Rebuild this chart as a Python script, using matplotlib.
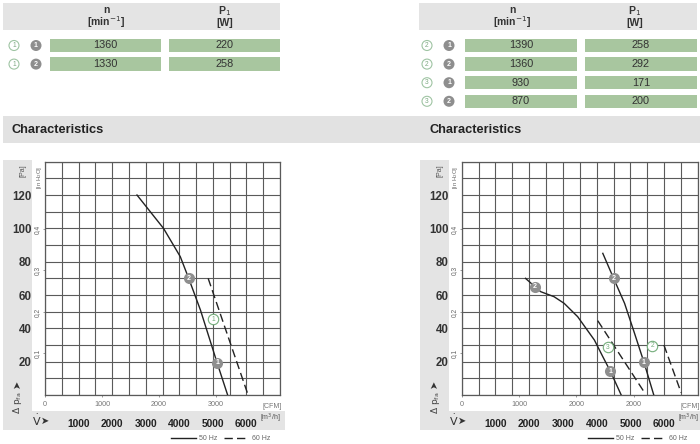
import matplotlib
matplotlib.use('Agg')
import matplotlib.pyplot as plt
from matplotlib.patches import Rectangle, Circle
from matplotlib.ticker import MultipleLocator

plt.rcParams['font.family'] = ['Liberation Sans Narrow', 'Liberation Sans', 'DejaVu Sans']

# ---------------- data ----------------
left_curve_ids = ['1', '1']
left_point_ids = ['1', '2']
left_speed = [1360, 1330]
left_power = [220, 258]

right_curve_ids = ['2', '2', '3', '3']
right_point_ids = ['1', '2', '1', '2']
right_speed = [1390, 1360, 930, 870]
right_power = [258, 292, 171, 200]

pa_ticks = [20, 40, 60, 80, 100, 120]
inh2o_ticks = [0.1, 0.2, 0.3, 0.4]
inh2o_labels = ['0,1', '0,2', '0,3', '0,4']
m3h_ticks = [1000, 2000, 3000, 4000, 5000, 6000]
m3h_labels = ['1000', '2000', '3000', '4000', '5000', '6000']
cfm_ticks = [0, 1000, 2000, 3000]
left_cfm_labels = ['0', '1000', '2000', '3000']
right_cfm_labels = ['0', '1000', '2000', '2000']

# left chart (m3/h, Pa)
left_50_x = [2740, 3530, 4030, 4280, 4630, 4975, 5125, 5440]
left_50_y = [120, 100, 83, 70, 51, 29, 19.4, 0]
left_60_x = [4860, 5420, 6050]
left_60_y = [70, 37, 0]
left_op_x = [4280, 5125]
left_op_y = [70, 19.4]
left_op_lbl = ['2', '1']
left_id_x = [5005]
left_id_y = [45.4]
left_id_lbl = ['1']

# right chart
right_50a_x = [1890, 2170, 2340, 2735, 3035, 3435, 3930, 4180, 4400, 4725]
right_50a_y = [70, 65, 62, 59, 55, 47, 33, 23, 14.4, 0]
right_50b_x = [4180, 4500, 4825, 5120, 5400, 5690]
right_50b_y = [85, 70, 55, 37, 19.6, 0]
right_60a_x = [4030, 5430]
right_60a_y = [44.6, 1]
right_60b_x = [5990, 6500]
right_60b_y = [30, 1.4]
right_op_x = [2170, 4400, 4500, 5400]
right_op_y = [65, 14.4, 70, 19.6]
right_op_lbl = ['2', '1', '2', '1']
right_id_x = [4330, 5650]
right_id_y = [28.6, 29.6]
right_id_lbl = ['3', '2']

# ---------------- style ----------------
GREY_PANEL = '#e4e4e4'
GREEN = '#a8c69f'
ID_GREEN = '#74ad7b'
OP_GREY = '#8e8e8e'
GRID = '#5a5a5a'
TXT = '#333333'

W, H = 700, 444
fig = plt.figure(figsize=(7.0, 4.44), dpi=100)
bg = fig.add_axes([0, 0, 1, 1], zorder=0)
bg.set_xlim(0, W)
bg.set_ylim(H, 0)
bg.axis('off')


def table(x0, x1, hx_n, hx_p, box1, box2, circ_x, curve_ids, point_ids, speed, power):
    bg.add_patch(Rectangle((x0, 3), x1 - x0, 27, color=GREY_PANEL, lw=0))
    bg.text(hx_n, 10, 'n', ha='center', va='center', fontsize=7.5, fontweight='bold', color=TXT)
    bg.text(hx_n, 22, '[min$^{-1}$]', ha='center', va='center', fontsize=7.5, fontweight='bold', color=TXT)
    bg.text(hx_p, 11, 'P$_1$', ha='center', va='center', fontsize=7.5, fontweight='bold', color=TXT)
    bg.text(hx_p, 23, '[W]', ha='center', va='center', fontsize=7.5, fontweight='bold', color=TXT)
    for i, (c, p, s, pw) in enumerate(zip(curve_ids, point_ids, speed, power)):
        yc = 45.5 + i * 18.6
        bg.add_patch(Rectangle((box1[0], yc - 6.7), box1[1] - box1[0], 13.4, color=GREEN, lw=0))
        bg.add_patch(Rectangle((box2[0], yc - 6.7), box2[1] - box2[0], 13.4, color=GREEN, lw=0))
        bg.text((box1[0] + box1[1]) / 2, yc, str(s), ha='center', va='center', fontsize=7.8, color=TXT)
        bg.text((box2[0] + box2[1]) / 2, yc, str(pw), ha='center', va='center', fontsize=7.8, color=TXT)
        bg.add_patch(Circle((circ_x, yc), 5, facecolor='white', edgecolor='#9fc4a3', lw=0.8))
        bg.text(circ_x, yc, c, ha='center', va='center', fontsize=4.8, color='#7da982')
        bg.add_patch(Circle((circ_x + 22, yc), 5.5, facecolor=OP_GREY, edgecolor='none'))
        bg.text(circ_x + 22, yc, p, ha='center', va='center', fontsize=5, color='white', fontweight='bold')


table(3, 280, 106, 225, (50, 161), (169, 280), 14,
      left_curve_ids, left_point_ids, left_speed, left_power)
table(419, 697, 512, 635, (465, 577), (585, 697), 427,
      right_curve_ids, right_point_ids, right_speed, right_power)

# banner
bg.add_patch(Rectangle((3, 116), 697, 27, color='#e2e2e2', lw=0))
bg.text(12, 129.5, 'Characteristics', ha='left', va='center', fontsize=9.2, fontweight='bold', color='#222')
bg.text(430, 129.5, 'Characteristics', ha='left', va='center', fontsize=9.2, fontweight='bold', color='#222')

# grey chart frames
for px0, px1 in [(3, 285), (420, 700)]:
    bg.add_patch(Rectangle((px0, 160), 29, 270, color=GREY_PANEL, lw=0))
    bg.add_patch(Rectangle((px0, 411), px1 - px0, 19, color=GREY_PANEL, lw=0))
    bg.text(px0 + 20, 171, '[Pa]', rotation=90, ha='center', va='center', fontsize=5, color='#555')
    bg.text(px0 + 36, 177, '[in H$_2$O]', rotation=90, ha='center', va='center', fontsize=4.3, color='#666')
    bg.text(px0 + 14, 384, '\u27a4', rotation=90, ha='center', va='center', fontsize=7,
            color='#333', family='DejaVu Sans')
    bg.text(px0 + 15, 403, r'$\Delta\ \mathrm{p_{fa}}$', rotation=90, ha='center', va='center',
            fontsize=6.5, color='#444')
    bg.text(px0 + 34, 420, r'$\dot{\mathrm{V}}$', ha='center', va='center', fontsize=8, color='#333')
    bg.text(px0 + 42, 420.5, '\u27a4', ha='center', va='center', fontsize=7, color='#333',
            family='DejaVu Sans')


def make_chart(x0px, x1px, cfm_labels):
    y_top, y_bot = 161.7, 395.0
    ax = fig.add_axes([x0px / W, 1 - y_bot / H, (x1px - x0px) / W, (y_bot - y_top) / H], zorder=2)
    ax.set_xlim(0, 7000)
    ax.set_ylim(0, 140)
    ax.xaxis.set_minor_locator(MultipleLocator(500))
    ax.yaxis.set_minor_locator(MultipleLocator(10))
    ax.set_xticks(m3h_ticks)
    ax.set_xticklabels(m3h_labels)
    ax.set_yticks(pa_ticks)
    ax.set_yticklabels([str(v) for v in pa_ticks])
    ax.grid(True, which='both', color=GRID, lw=0.8)
    ax.tick_params(which='both', length=0)
    ax.tick_params(axis='x', pad=17.5, labelsize=7.4, labelcolor='#222')
    ax.tick_params(axis='y', pad=9.5, labelsize=8.3, labelcolor='#333')
    for lab in ax.get_xticklabels() + ax.get_yticklabels():
        lab.set_fontweight('bold')
    for s in ax.spines.values():
        s.set_color(GRID)
        s.set_linewidth(0.9)
    ax.set_axisbelow(True)

    sec_y = ax.secondary_yaxis('left', functions=(lambda p: p / 249.09, lambda h: h * 249.09))
    sec_y.set_yticks(inh2o_ticks)
    sec_y.set_yticklabels(inh2o_labels, rotation=90, va='center')
    sec_y.tick_params(length=1.5, width=0.6, color='#888', pad=1.5, labelsize=4.8, labelcolor='#666')
    sec_y.spines['left'].set_visible(False)

    sec_x = ax.secondary_xaxis('bottom', functions=(lambda q: q / 1.699, lambda c: c * 1.699))
    sec_x.set_xticks(cfm_ticks)
    sec_x.set_xticklabels(cfm_labels)
    sec_x.tick_params(length=1.5, width=0.6, color='#888', pad=3, labelsize=5.2, labelcolor='#777')
    sec_x.spines['bottom'].set_visible(False)

    ax.text(0.966, -0.036, '[CFM]', transform=ax.transAxes, ha='center', va='top', fontsize=5, color='#777')
    ax.text(0.957, -0.1, '[m$^3$/h]', transform=ax.transAxes, ha='center', va='center', fontsize=5, color='#555')
    return ax


def op_markers(ax, xs, ys, lbls):
    ax.plot(xs, ys, 'o', ms=8, color=OP_GREY, mec='none', zorder=5)
    for x, y, l in zip(xs, ys, lbls):
        ax.text(x, y, l, ha='center', va='center', fontsize=5, color='white', fontweight='bold', zorder=6)


def id_markers(ax, xs, ys, lbls):
    ax.plot(xs, ys, 'o', ms=7.5, mfc='white', mec=ID_GREEN, mew=0.8, zorder=5)
    for x, y, l in zip(xs, ys, lbls):
        ax.text(x, y, l, ha='center', va='center', fontsize=4.8, color=ID_GREEN, zorder=6)


def legend(ax, solid, dashed, right_edge):
    ax.legend([solid, dashed], ['50 Hz', '60 Hz'], loc='upper right', bbox_to_anchor=(right_edge, -0.172),
              ncol=2, frameon=False, fontsize=5, handlelength=3.6, handletextpad=0.4,
              columnspacing=1.0, borderpad=0, borderaxespad=0, labelcolor='#666')


DASH = (0, (6, 3))

axL = make_chart(45, 280, left_cfm_labels)
s1, = axL.plot(left_50_x, left_50_y, color='#222', lw=1.0, zorder=4)
d1, = axL.plot(left_60_x, left_60_y, color='#222', lw=1.0, ls=DASH, zorder=4)
op_markers(axL, left_op_x, left_op_y, left_op_lbl)
id_markers(axL, left_id_x, left_id_y, left_id_lbl)
legend(axL, s1, d1, 0.96)

axR = make_chart(461.7, 698, right_cfm_labels)
s2, = axR.plot(right_50a_x, right_50a_y, color='#222', lw=1.0, zorder=4)
axR.plot(right_50b_x, right_50b_y, color='#222', lw=1.0, zorder=4)
d2, = axR.plot(right_60a_x, right_60a_y, color='#222', lw=1.0, ls=DASH, zorder=4)
axR.plot(right_60b_x, right_60b_y, color='#222', lw=1.0, ls=DASH, zorder=4)
op_markers(axR, right_op_x, right_op_y, right_op_lbl)
id_markers(axR, right_id_x, right_id_y, right_id_lbl)
legend(axR, s2, d2, 0.955)

fig.savefig('out.png', dpi=100)
